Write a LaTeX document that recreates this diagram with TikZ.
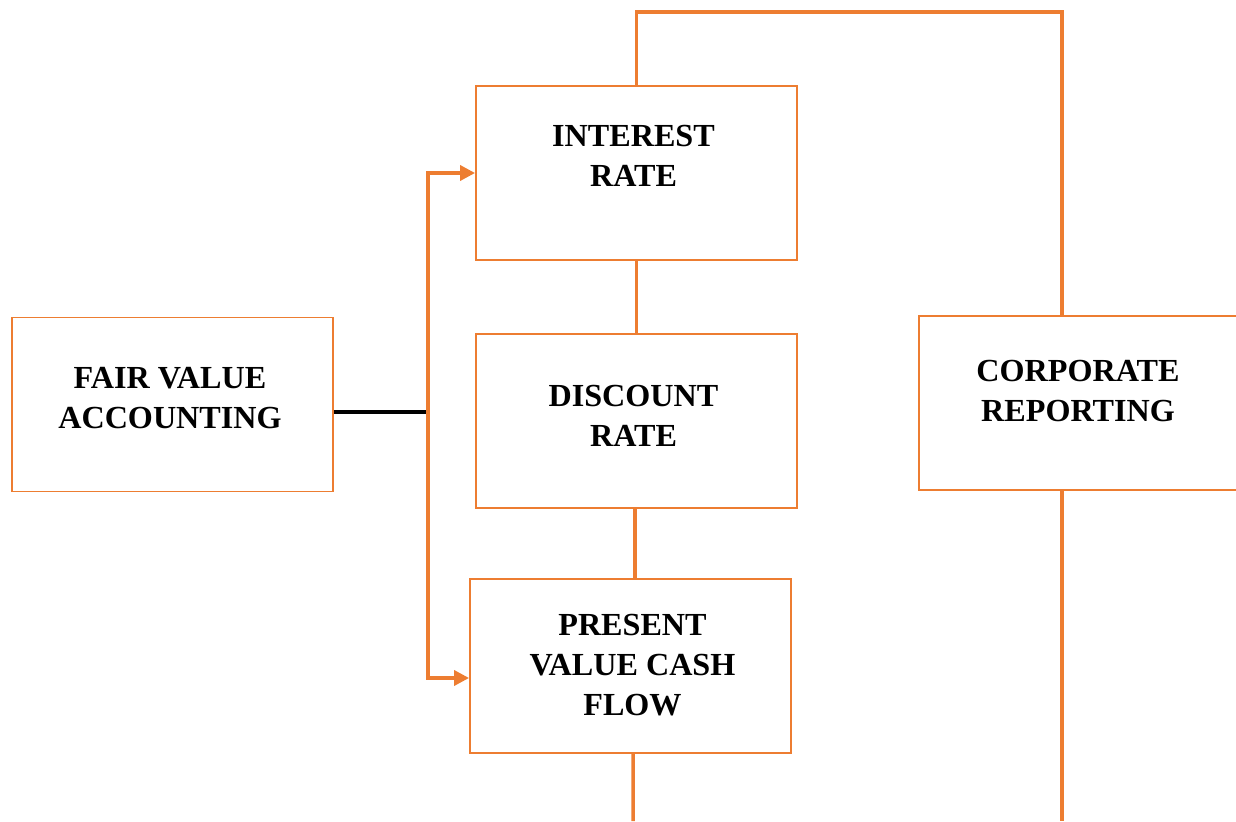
\documentclass[tikz,border=0pt]{standalone}
\usepackage{fontspec}
\setmainfont{Liberation Serif}
\usetikzlibrary{arrows.meta}
\definecolor{accent}{HTML}{ED7D31}
\begin{document}
\begin{tikzpicture}[x=0.02cm,y=-0.02cm,
  box/.style={draw=accent,line width=1.1pt,fill=white,minimum width=6.42cm,minimum height=3.48cm,inner sep=0pt},
  txt/.style={align=center,font=\fontsize{18.3}{22.8}\selectfont\bfseries,inner sep=0pt},
  conn/.style={draw=accent,line width=2pt},
  arr/.style={conn,-{Triangle[length=0.3cm,width=0.3cm]}}]
\useasboundingbox (0,0) rectangle (1236,821);
\node[box] (fva) at (172.5,404.5) {};
\node[box] (ir) at (636.5,173) {};
\node[box] (dr) at (636.5,421) {};
\node[box] (pv) at (630.5,666) {};
\node[box] (cr) at (1079.5,403) {};
\node[txt] (fvat) at ([xshift=-0.05cm,yshift=0.12cm]fva.center) {FAIR VALUE\\ACCOUNTING};
\node[txt] (irt) at ([xshift=-0.06cm,yshift=0.34cm]ir.center) {INTEREST\\RATE};
\node[txt] (drt) at ([xshift=-0.06cm,yshift=0.1cm]dr.center) {DISCOUNT\\RATE};
\node[txt] (pvt) at ([xshift=0.04cm,yshift=0.02cm]pv.center) {PRESENT\\VALUE CASH\\FLOW};
\node[txt] (crt) at ([xshift=-0.03cm,yshift=0.24cm]cr.center) {CORPORATE\\REPORTING};
\coordinate (j) at (428,412);
\coordinate (topR) at (1062,12);
\coordinate (pvEnd) at (633,821);
\coordinate (crEnd) at (1062,821);
\draw[line width=2.2pt] (fva.east |- j) -- (j);
\draw[arr] (j) |- (ir.west);
\draw[arr] (j) |- ([yshift=-0.24cm]pv.west);
\draw[conn] (ir.north) |- (topR) -- (topR |- cr.north);
\draw[conn] (ir.south) -- (dr.north);
\draw[conn] ([xshift=-0.03cm]dr.south) -- ([xshift=-0.03cm]dr.south |- pv.north);
\draw[conn] ([xshift=0.05cm]pv.south) -- (pvEnd);
\draw[conn] (topR |- cr.south) -- (crEnd);
\end{tikzpicture}
\end{document}
